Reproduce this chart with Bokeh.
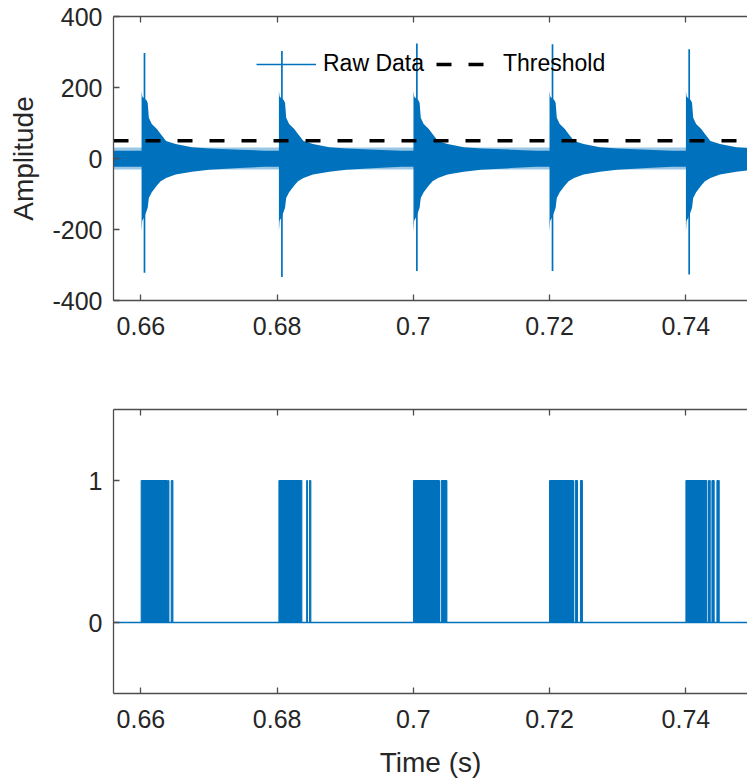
from bokeh.plotting import figure
from bokeh.layouts import column
from bokeh.models import LinearAxis, FixedTicker, Range1d, Legend, LegendItem
from bokeh.embed import file_html
from bokeh.resources import INLINE

BLUE = "#0072BD"
FONT = "Liberation Sans"
AX = "#4d4d4d"
TXT = "#262626"

# ---------------- data ----------------
time_span = [0.65598, 0.74904]          # visible time span (s)
x_ticks = [0.66, 0.68, 0.70, 0.72, 0.74]
x_tick_labels = ["0.66", "0.68", "0.7", "0.72", "0.74"]
amp_ticks = [-400, -200, 0, 200, 400]
amp_tick_labels = ["-400", "-200", "0", "200", "400"]
bin_ticks = [0, 1]
bin_tick_labels = ["0", "1"]

threshold = 50
noise_hi = 22          # dense part of the background noise
noise_lo = -23
noise_peak_hi = 31     # sparse noise excursions
noise_peak_lo = -31

# impacts: onset of burst, main spike time and its extremes
event_onset = [0.66010, 0.68026, 0.70001, 0.71998, 0.74000]
spike_time = [0.66053, 0.68070, 0.70051, 0.72042, 0.74048]
spike_hi = [297, 303, 324, 322, 308]
spike_lo = [-322, -334, -317, -317, -327]

# decaying envelope after each onset (ms after onset, upper, lower)
env_ms = [0.00, 0.10, 0.35, 0.70, 0.90, 1.07, 1.50, 2.25, 2.80, 3.60, 5.00, 7.40, 9.90, 14.3, 18.0]
env_hi = [190, 175, 170, 165, 157, 115, 97, 83, 69, 49, 41, 32, 28, 25, 22]
env_lo = [-205, -175, -167, -150, -139, -111, -95, -76, -64, -55, -45, -37, -32, -27, -23]

# detected samples above threshold (start, end in s)
pulse_start = [0.66004, 0.66400, 0.66445,
               0.68026, 0.68433, 0.68475,
               0.70001, 0.70408,
               0.71998, 0.72375, 0.72452,
               0.74000, 0.74332, 0.74382, 0.74455]
pulse_end = [0.66390, 0.66412, 0.66470,
             0.68363, 0.68445, 0.68495,
             0.70383, 0.70492,
             0.72350, 0.72409, 0.72481,
             0.74308, 0.74357, 0.74415, 0.74489]

# ---------------- build band ----------------
bx, bhi, blo = [time_span[0]], [noise_hi], [noise_lo]
for on in event_onset:
    bx.append(on - 1e-6); bhi.append(noise_hi); blo.append(noise_lo)
    for ms, h, l in zip(env_ms, env_hi, env_lo):
        bx.append(on + ms / 1000.0); bhi.append(h); blo.append(l)
bx.append(time_span[1]); bhi.append(noise_hi); blo.append(noise_lo)


def style(p, yticks, ylabels):
    p.outline_line_color = None
    p.xgrid.visible = False
    p.ygrid.visible = False
    p.background_fill_color = "white"
    p.border_fill_color = "white"
    for ax in p.xaxis + p.yaxis:
        ax.axis_line_color = AX
        ax.axis_line_width = 1.3
        ax.major_tick_line_color = AX
        ax.major_tick_line_width = 1.3
        ax.major_tick_in = 6
        ax.major_tick_out = 0
        ax.minor_tick_line_color = None
        ax.major_label_text_font = FONT
        ax.major_label_text_font_size = "25px"
        ax.major_label_text_color = TXT
        ax.axis_label_text_font = FONT
        ax.axis_label_text_font_size = "28px"
        ax.axis_label_text_font_style = "normal"
        ax.axis_label_text_color = TXT
    p.xaxis.ticker = FixedTicker(ticks=x_ticks)
    p.xaxis.major_label_overrides = dict(zip(x_ticks, x_tick_labels))
    p.xaxis.major_label_standoff = 16
    p.yaxis.ticker = FixedTicker(ticks=yticks)
    p.yaxis.major_label_overrides = dict(zip(yticks, ylabels))
    p.yaxis.major_label_standoff = 11
    # top border of the box, ticks only (no labels)
    top = LinearAxis(ticker=FixedTicker(ticks=x_ticks), major_label_text_color=None,
                     major_label_standoff=0, major_tick_in=6, major_tick_out=0,
                     axis_line_color=AX, axis_line_width=1.3, major_tick_line_color=AX,
                     major_tick_line_width=1.3, minor_tick_line_color=None)
    p.add_layout(top, "above")


# ---------------- top panel ----------------
p1 = figure(width=747, height=400, x_range=Range1d(*time_span), y_range=Range1d(-400, 400),
            output_backend="svg", toolbar_location=None,
            min_border_left=113, min_border_right=0, min_border_top=16, min_border_bottom=100)
p1.varea(x=time_span, y1=[noise_peak_lo] * 2, y2=[noise_peak_hi] * 2,
         fill_color=BLUE, fill_alpha=0.4)
p1.varea(x=bx, y1=blo, y2=bhi, fill_color=BLUE, fill_alpha=1.0)
r_raw = p1.segment(x0=spike_time, y0=spike_lo, x1=spike_time, y1=spike_hi,
                   line_color=BLUE, line_width=1.7)
r_thr = p1.line(x=time_span, y=[threshold, threshold], line_color="black",
                line_width=3.5, line_dash="15 17")
style(p1, amp_ticks, amp_tick_labels)
p1.left[0].axis_label = "Amplitude"
p1.left[0].axis_label_standoff = 10

legend = Legend(items=[LegendItem(label="Raw Data", renderers=[r_raw]),
                       LegendItem(label="Threshold", renderers=[r_thr])],
                orientation="horizontal", location=(143, 223),
                glyph_width=60, glyph_height=20, label_height=20, label_standoff=7,
                spacing=12, padding=0, margin=0, border_line_color=None,
                background_fill_alpha=0, label_text_font=FONT,
                label_text_font_size="23px", label_text_color="black")
p1.add_layout(legend)

# ---------------- bottom panel ----------------
p2 = figure(width=747, height=382, x_range=Range1d(*time_span), y_range=Range1d(-0.5, 1.5),
            output_backend="svg", toolbar_location=None,
            min_border_left=113, min_border_right=0, min_border_top=9, min_border_bottom=89)
p2.line(x=time_span, y=[0, 0], line_color=BLUE, line_width=1.5)
p2.quad(left=pulse_start, right=pulse_end, bottom=[0] * len(pulse_start), top=[1] * len(pulse_start),
        fill_color=BLUE, line_color=BLUE, line_width=1)
style(p2, bin_ticks, bin_tick_labels)
p2.below[0].axis_label = "Time (s)"
p2.below[0].axis_label_standoff = 16

layout = column(p1, p2, spacing=0)
open("out.html", "w").write(file_html(layout, INLINE))
